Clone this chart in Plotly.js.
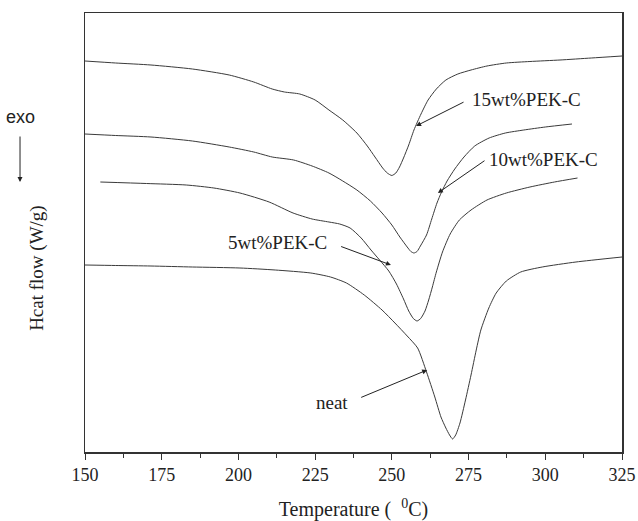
<!DOCTYPE html>
<html>
<head>
<meta charset="utf-8">
<script src="https://cdn.plot.ly/plotly-3.0.1.min.js"></script>
<style>html,body{margin:0;padding:0;background:#fff;}#chart{width:638px;height:521px;}</style>
</head>
<body>
<div id="chart"></div>
<script>
// Temperature (°C) and heat flow (arbitrary offset units, W/g)
const temp15 = [150,160,171.5,185,197,205,211,215,220,225,229.5,234,238.6,242,244.5,247,248.5,250,251.3,252.5,253.8,255.5,257.2,259.5,261.8,264.5,267.6,271.5,275.8,281,287.3,295,304.8,315,325];
const flow15 = [3.91,3.89,3.87,3.83,3.77,3.70,3.63,3.60,3.58,3.52,3.42,3.32,3.19,3.06,2.95,2.84,2.79,2.765,2.79,2.85,2.94,3.07,3.22,3.38,3.52,3.63,3.72,3.78,3.82,3.86,3.89,3.905,3.92,3.94,3.96];

const temp10 = [150,160,171.5,185,197,205,211,218,224,229.5,234,238.6,243,246.8,250,252.6,255,256.2,257.2,258.2,259.3,261.3,263,264.7,266.2,268,270.5,273.5,277,281.7,287,293,300,308.7];
const flow10 = [3.18,3.165,3.15,3.11,3.05,3.00,2.95,2.92,2.86,2.79,2.71,2.62,2.51,2.39,2.27,2.15,2.05,2.005,1.99,2.005,2.06,2.17,2.33,2.49,2.60,2.71,2.83,2.95,3.06,3.14,3.19,3.22,3.25,3.28];

const temp5 = [155,170,183,192,200.5,210,217.8,224,229.5,233,236.4,240,243.2,246,249,251.5,253.8,255.5,257,258.2,259.4,260.8,262,263.2,264.5,266.5,269,272,275.8,281,287.3,295,303,310.5];
const flow5 = [2.70,2.685,2.67,2.64,2.59,2.50,2.39,2.33,2.30,2.28,2.24,2.14,2.02,1.92,1.81,1.68,1.53,1.41,1.335,1.31,1.335,1.41,1.52,1.65,1.80,2.00,2.18,2.32,2.42,2.52,2.59,2.65,2.70,2.74];

const tempNeat = [150,160,171.5,185,200.5,212,223.6,230,235.2,241,246.8,251,255,258.4,261.3,264,266,267.6,268.8,269.8,270.8,272.2,274,275.8,277.5,279,281.6,284,287.3,292,299,310,325];
const flowNeat = [1.87,1.865,1.86,1.85,1.84,1.82,1.79,1.75,1.69,1.57,1.42,1.29,1.16,1.04,0.80,0.55,0.35,0.24,0.17,0.13,0.17,0.29,0.52,0.77,1.02,1.22,1.44,1.59,1.71,1.80,1.85,1.90,1.95];

const seriesNames = ['15wt%PEK-C','10wt%PEK-C','5wt%PEK-C','neat'];
const xTicks = [150,175,200,225,250,275,300,325];

const serif = 'Liberation Serif, Times New Roman, serif';
const lineStyle = {color:'#3a3a3a', width:1, shape:'spline', smoothing:0.6};

const traces = [
  {x:temp15, y:flow15, name:seriesNames[0]},
  {x:temp10, y:flow10, name:seriesNames[1]},
  {x:temp5, y:flow5, name:seriesNames[2]},
  {x:tempNeat, y:flowNeat, name:seriesNames[3]}
].map(t => Object.assign(t, {type:'scatter', mode:'lines', line:lineStyle, hoverinfo:'skip'}));

// label placement: [textX, textY, headX, headY, xanchor, yanchor, startstandoff]
const labelPos = [
  [275.4, 3.53, 257.9, 3.26, 'left', 'middle', 7],
  [281.0, 2.93, 265.0, 2.59, 'left', 'middle', 3],
  [229.5, 2.10, 249.7, 1.87, 'right', 'middle', 13],
  [236.4, 0.50, 261.5, 0.82, 'right', 'middle', 12]
];
const annotations = seriesNames.map((n, i) => {
  const p = labelPos[i];
  return {x:p[2], y:p[3], ax:p[0], ay:p[1], xref:'x', yref:'y', axref:'x', ayref:'y',
    text:n, xanchor:p[4], yanchor:p[5], showarrow:true,
    arrowhead:2, arrowsize:1, arrowwidth:1, arrowcolor:'#222', standoff:0, startstandoff:p[6],
    font:{family:serif, size:19, color:'#222'}};
});
// "exo" with downward arrow
annotations.push({xref:'paper', yref:'paper', x:-0.121, y:0.615, ax:0, ay:-65,
  text:'exo', showarrow:true, arrowhead:2, arrowsize:1, arrowwidth:1, arrowcolor:'#222',
  standoff:0, startstandoff:8,
  font:{family:'Liberation Sans, Arial, sans-serif', size:18, color:'#222'}});
// y axis title (drawn lower than centre, as in the original figure)
annotations.push({xref:'paper', yref:'paper', x:-0.115, y:0.42, text:'Hcat flow (W/g)', textangle:-90,
  showarrow:false, font:{family:serif, size:19, color:'#222'}});

const layout = {
  width:638, height:521,
  margin:{l:85, r:16, t:13, b:69},
  paper_bgcolor:'#fff', plot_bgcolor:'#fff',
  showlegend:false,
  font:{family:serif, color:'#222'},
  xaxis:{
    range:[150,325], tickvals:xTicks, ticktext:xTicks.map(String),
    ticks:'outside', ticklen:6, tickwidth:1, tickcolor:'#333',
    minor:{ticks:'outside', ticklen:4, tickwidth:1, tickcolor:'#333', dtick:12.5, tick0:150},
    showline:true, linecolor:'#333', linewidth:1.5, mirror:true,
    showgrid:false, zeroline:false,
    tickfont:{family:serif, size:18, color:'#222'},
    title:{text:'Temperature (  <sup>0</sup>C)', font:{family:serif, size:20, color:'#222'}, standoff:26}
  },
  yaxis:{
    range:[0,4.39], showticklabels:false, ticks:'',
    showline:true, linecolor:'#333', linewidth:1.5, mirror:true,
    showgrid:false, zeroline:false
  },
  annotations:annotations
};

Plotly.newPlot('chart', traces, layout, {staticPlot:true, displayModeBar:false});
</script>
</body>
</html>
